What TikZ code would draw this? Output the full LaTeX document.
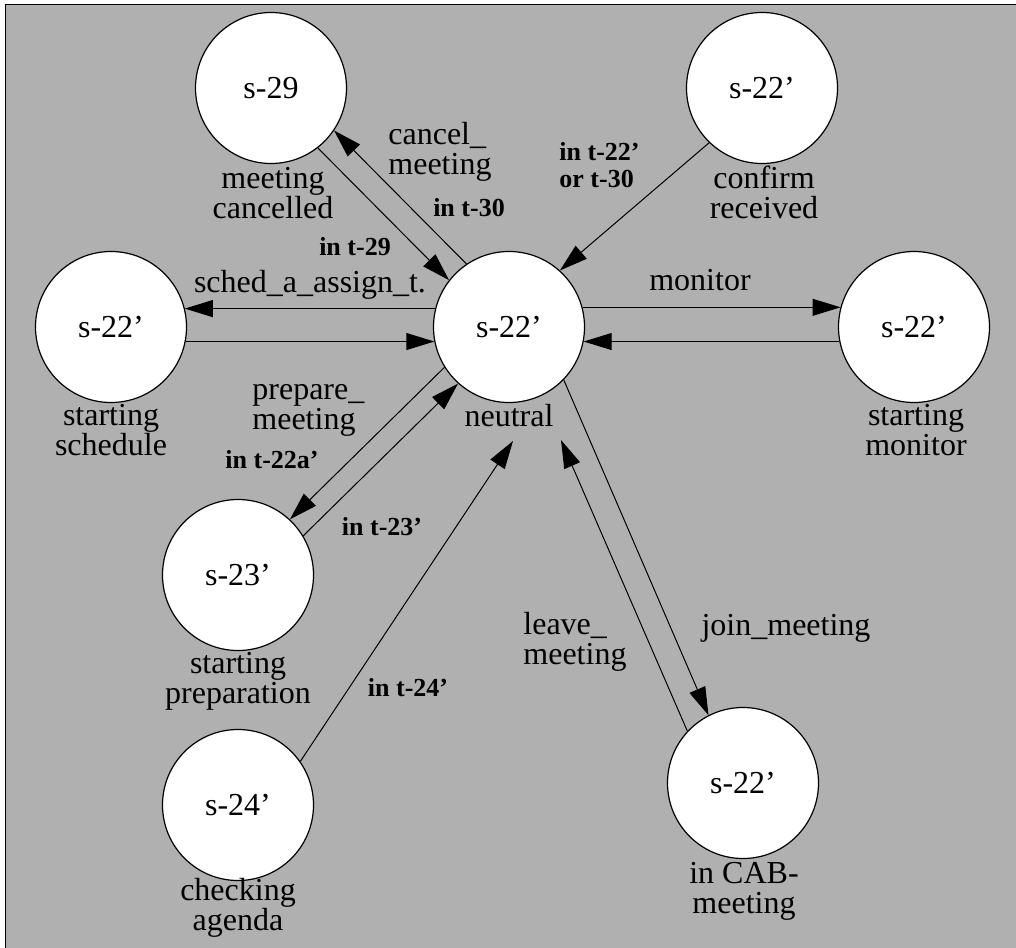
\documentclass[tikz,border=0pt]{standalone}
\usepackage{fontspec}
\setmainfont{Liberation Serif}
\usepackage{xcolor}
\usetikzlibrary{arrows.meta}

\definecolor{panelgray}{RGB}{176,176,176}

\tikzset{
  state/.style={circle, draw, fill=white, line width=0.6pt, minimum size=75.5pt, inner sep=0pt, font=\fontsize{16}{15}\selectfont},
  caption/.style={align=center, inner sep=0pt, font=\fontsize{16}{15}\selectfont},
  trans/.style={align=left, inner sep=0pt, font=\fontsize{16}{15}\selectfont},
  cond/.style={align=left, inner sep=0pt, font=\fontsize{13}{13.5}\selectfont\bfseries},
  edge/.style={line width=0.5pt, -{Triangle[length=14pt,width=8.5pt]}},
}

\begin{document}
\begin{tikzpicture}[x=0.5pt, y=-0.5pt]
    \useasboundingbox (0,0) rectangle (1016,947);
    \clip (0,0) rectangle (1016,947);
    \fill[white] (0,0) rectangle (1016,947);
    % Panel
    \draw[line width=0.8pt, fill=panelgray] (5.5,4.5) rectangle (1030,960);

    % States
    \node[state] (s29) at (271,88) {s-29};
    \node[state] (conf) at (762,88) {s-22'};
    \node[state] (sched) at (111,327) {s-22'};
    \node[state] (neutral) at (509,327) {s-22'};
    \node[state] (mon) at (914,327) {s-22'};
    \node[state] (s23) at (238,575) {s-23'};
    \node[state] (s24) at (238,805) {s-24'};
    \node[state] (cab) at (743,783) {s-22'};

    % State names
    \node[caption] (s29cap) at (273,193) {meeting\\cancelled};
    \node[caption] (confcap) at (764,192) {confirm\\received};
    \node[caption] (schedcap) at (111,430) {starting\\schedule};
    \node[caption] (neutcap) at (509,416) {neutral};
    \node[caption] (moncap) at (916,430) {starting\\monitor};
    \node[caption] (s23cap) at (238,681) {starting\\preparation};
    \node[caption] (s24cap) at (238,908) {checking\\agenda};
    \node[caption] (cabcap) at (744,891) {in CAB-\\meeting};

    % Arrow ends below the neutral label
    \coordinate (nin1) at (513,441);
    \coordinate (nin2) at (561,440);

    % Transitions
    \draw[edge] (neutral.124) -- (s29.326);
    \draw[edge] (s29.308) -- (neutral.142);
    \draw[edge] (conf.226) -- (neutral.48);
    \draw[edge] (neutral.166) -- (sched.14);
    \draw[edge] (sched.-11.5) -- (neutral.191.5);
    \draw[edge] (neutral.15) -- (mon.165);
    \draw[edge] (mon.191.5) -- (neutral.-11.5);
    \draw[edge] (neutral.212) -- (s23.47);
    \draw[edge] (s23.31) -- (neutral.228);
    \draw[edge] (s24.35) -- (nin1);
    \draw[edge] (neutral.-44) -- (cab.117);
    \draw[edge] (cab.137) -- (nin2);

    % Transition labels
    \node[trans, anchor=west] (lcancel) at (388,152) {cancel\_\\meeting};
    \node[cond] (lt30) at (469,208) {in t-30};
    \node[cond] (lt29) at (355,247) {in t-29};
    \node[trans] (lsched) at (310,285) {sched\_a\_assign\_t.};
    \node[cond, anchor=west] (lt22) at (559,165) {in t-22'\\or t-30};
    \node[trans] (lmon) at (700,280) {monitor};
    \node[trans, anchor=west] (lprep) at (252,410) {prepare\_\\meeting};
    \node[cond] (lt22a) at (272,460) {in t-22a'};
    \node[cond] (lt23) at (382,527) {in t-23'};
    \node[cond] (lt24) at (408,688) {in t-24'};
    \node[trans, anchor=west] (lleave) at (523,642) {leave\_\\meeting};
    \node[trans] (ljoin) at (786,628) {join\_meeting};
\end{tikzpicture}
\end{document}
